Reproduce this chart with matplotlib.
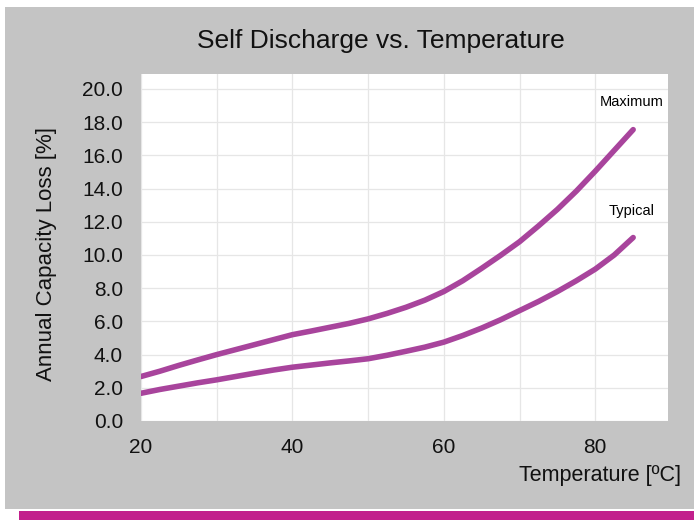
import matplotlib.pyplot as plt
from matplotlib.patches import Rectangle

plt.rcParams['font.family'] = ['Liberation Sans', 'DejaVu Sans']

# values
temperature = [20, 22.5, 25, 27.5, 30, 32.5, 35, 37.5, 40, 42.5, 45, 47.5, 50, 52.5,
               55, 57.5, 60, 62.5, 65, 67.5, 70, 72.5, 75, 77.5, 80, 82.5, 85]
loss_max = [2.68, 3.0, 3.35, 3.68, 4.0, 4.3, 4.6, 4.9, 5.2, 5.42, 5.65, 5.88, 6.15, 6.48,
            6.85, 7.28, 7.8, 8.45, 9.2, 9.98, 10.8, 11.75, 12.75, 13.85, 15.05, 16.3, 17.55]
loss_typ = [1.67, 1.9, 2.1, 2.3, 2.48, 2.68, 2.88, 3.07, 3.24, 3.37, 3.5, 3.62, 3.75, 3.96,
            4.2, 4.45, 4.75, 5.15, 5.6, 6.1, 6.65, 7.2, 7.8, 8.45, 9.15, 10.0, 11.05]
x_ticks = [20, 40, 60, 80]
x_minor = [30, 50, 70]
y_ticks = [0, 2, 4, 6, 8, 10, 12, 14, 16, 18, 20]

line_color = '#a8449c'

fig = plt.figure(figsize=(6.94, 5.2), dpi=100)
fig.patch.set_facecolor('white')

# grey panel and magenta bar behind the chart
fig.patches.append(Rectangle((5 / 694, 11 / 520), 689 / 694, 502 / 520,
                             transform=fig.transFigure, facecolor='#c4c4c4',
                             edgecolor='none', zorder=-2))
fig.patches.append(Rectangle((19 / 694, 0), 675 / 694, 9 / 520,
                             transform=fig.transFigure, facecolor='#c2208c',
                             edgecolor='none', zorder=-2))

ax = fig.add_axes([141 / 694, 99 / 520, 527 / 694, 347 / 520])
ax.set_facecolor('white')

for series in (loss_max, loss_typ):
    ax.plot(temperature, series, color=line_color, lw=4, solid_capstyle='round',
            solid_joinstyle='round', zorder=3)

ax.set_xlim(20, 89.6)
ax.set_ylim(0, 20.9)
ax.set_xticks(x_ticks)
ax.set_xticks(x_minor, minor=True)
ax.set_yticks(y_ticks)
ax.set_yticklabels([f'{v:.1f}' for v in y_ticks])
ax.grid(True, which='both', color='#e6e6e6', lw=0.9, zorder=0)
ax.set_axisbelow(True)
ax.tick_params(which='both', length=0, labelsize=15, colors='#111111')
ax.tick_params(axis='y', pad=13)
ax.tick_params(axis='x', pad=12)
for s in ax.spines.values():
    s.set_visible(False)

box = dict(facecolor='white', edgecolor='none', pad=2)
ax.text(84.8, 19.2, 'Maximum', fontsize=10.5, ha='center', va='center', bbox=box)
ax.text(84.8, 12.63, 'Typical', fontsize=10.5, ha='center', va='center', bbox=box)

fig.text(381 / 694, 1 - 41 / 520, 'Self Discharge vs. Temperature',
         fontsize=19, ha='center', va='center', color='#111111')
fig.text(47 / 694, 1 - 254 / 520, 'Annual Capacity Loss [%]', fontsize=16,
         rotation=90, ha='center', va='center', color='#111111')
fig.text(681 / 694, 1 - 476 / 520, 'Temperature [ºC]', fontsize=15.5,
         ha='right', va='center', color='#111111')

fig.savefig('out.png', dpi=100)
